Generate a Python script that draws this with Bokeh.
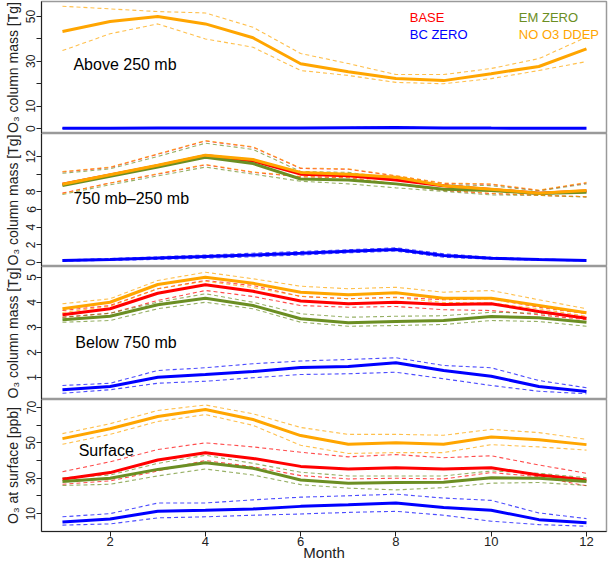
from bokeh.plotting import figure
from bokeh.layouts import column
from bokeh.models import Range1d, FixedTicker, Label
from bokeh.embed import file_html
from bokeh.resources import INLINE

FONT = "Liberation Sans"
RED, BLUE, GREEN, ORANGE = "#FF0000", "#0000FF", "#6B8E23", "#FFA500"

months = [1, 2, 3, 4, 5, 6, 7, 8, 9, 10, 11, 12]
month_ticks = [2, 4, 6, 8, 10, 12]

# ---- Panel 1: Above 250 mb (O3 column mass, Tg)
p1_orange = [43.3, 47.8, 50.0, 46.7, 40.5, 28.9, 25.4, 22.3, 21.4, 24.5, 27.7, 35.6]
p1_orange_hi = [54.6, 53.4, 52.2, 51.6, 45.2, 33.5, 29.0, 24.1, 24.1, 26.8, 31.2, 40.8]
p1_orange_lo = [34.8, 42.3, 46.7, 40.0, 36.3, 25.9, 23.7, 20.6, 20.0, 22.3, 25.9, 29.9]
p1_blue = [0.15, 0.15, 0.2, 0.2, 0.25, 0.3, 0.4, 0.5, 0.3, 0.2, 0.15, 0.15]
p1_blue_hi = [0.2, 0.2, 0.25, 0.25, 0.3, 0.35, 0.5, 0.6, 0.35, 0.25, 0.2, 0.2]
p1_blue_lo = [0.1, 0.1, 0.15, 0.15, 0.2, 0.25, 0.3, 0.4, 0.25, 0.15, 0.1, 0.1]
p1_ticks = [0, 10, 20, 30, 40, 50]
p1_labels = [0, 10, 30, 50]

# ---- Panel 2: 750 mb - 250 mb
p2_orange = [8.85, 9.94, 11.0, 12.15, 11.65, 10.2, 10.0, 9.64, 8.7, 8.3, 7.85, 8.15]
p2_orange_hi = [10.3, 10.8, 12.3, 13.8, 13.1, 10.7, 10.6, 9.83, 9.0, 8.9, 8.2, 9.07]
p2_orange_lo = [7.8, 9.0, 10.05, 11.1, 10.25, 9.75, 9.64, 8.9, 8.2, 7.85, 7.6, 7.45]
p2_red = [8.85, 9.9, 10.95, 12.1, 11.5, 10.0, 9.83, 9.35, 8.7, 8.25, 7.85, 8.1]
p2_red_hi = [10.25, 10.75, 12.25, 13.75, 13.05, 10.65, 10.55, 9.8, 8.95, 8.85, 8.15, 9.0]
p2_red_lo = [7.85, 9.0, 10.0, 11.05, 10.2, 9.7, 9.6, 8.85, 8.15, 7.8, 7.6, 7.45]
p2_green = [8.7, 9.75, 10.8, 11.9, 11.2, 9.45, 9.35, 8.9, 8.3, 8.15, 7.8, 7.95]
p2_green_hi = [10.1, 10.6, 12.0, 13.5, 12.8, 10.3, 10.2, 9.5, 8.8, 8.7, 8.1, 8.9]
p2_green_lo = [7.7, 8.8, 9.8, 10.8, 10.0, 9.2, 8.9, 8.45, 8.05, 7.65, 7.6, 7.4]
p2_blue = [0.23, 0.35, 0.5, 0.68, 0.85, 1.05, 1.28, 1.47, 0.79, 0.49, 0.34, 0.23]
p2_blue_hi = [0.3, 0.45, 0.65, 0.85, 1.05, 1.25, 1.45, 1.66, 1.0, 0.6, 0.4, 0.28]
p2_blue_lo = [0.15, 0.25, 0.35, 0.5, 0.65, 0.85, 1.1, 1.3, 0.6, 0.38, 0.27, 0.18]
p2_ticks = [0, 2, 4, 6, 8, 10, 12]
p2_labels = [0, 2, 4, 6, 8, 12]

# ---- Panel 3: Below 750 mb
p3_orange = [3.75, 4.01, 4.72, 5.01, 4.77, 4.41, 4.31, 4.39, 4.17, 4.17, 3.88, 3.59]
p3_orange_hi = [3.95, 4.15, 4.88, 5.21, 4.95, 4.65, 4.55, 4.61, 4.41, 4.48, 4.11, 3.75]
p3_orange_lo = [3.6, 3.85, 4.55, 4.85, 4.6, 4.25, 4.15, 4.2, 4.0, 3.98, 3.75, 3.45]
p3_red = [3.51, 3.75, 4.37, 4.71, 4.45, 4.06, 3.95, 4.01, 3.92, 3.95, 3.64, 3.37]
p3_red_hi = [3.68, 3.88, 4.55, 4.88, 4.68, 4.24, 4.15, 4.21, 4.11, 4.15, 3.81, 3.55]
p3_red_lo = [3.41, 3.57, 4.08, 4.48, 4.24, 3.88, 3.81, 3.84, 3.71, 3.68, 3.51, 3.31]
p3_green = [3.31, 3.45, 3.91, 4.17, 3.88, 3.35, 3.19, 3.24, 3.28, 3.44, 3.39, 3.21]
p3_green_hi = [3.41, 3.57, 4.01, 4.35, 4.01, 3.55, 3.41, 3.45, 3.47, 3.61, 3.57, 3.39]
p3_green_lo = [3.21, 3.28, 3.75, 4.01, 3.75, 3.21, 3.05, 3.08, 3.12, 3.28, 3.24, 3.05]
p3_blue = [0.51, 0.64, 1.01, 1.12, 1.24, 1.40, 1.44, 1.59, 1.28, 1.05, 0.64, 0.44]
p3_blue_hi = [0.68, 0.77, 1.28, 1.39, 1.55, 1.66, 1.72, 1.79, 1.48, 1.39, 0.88, 0.59]
p3_blue_lo = [0.37, 0.51, 0.77, 0.85, 0.99, 1.12, 1.15, 1.21, 0.95, 0.68, 0.45, 0.35]
p3_ticks = [1, 2, 3, 4, 5]
p3_labels = [1, 2, 3, 4, 5]

# ---- Panel 4: Surface (O3 at surface, ppb)
p4_orange = [52.4, 58.0, 64.9, 68.8, 63.2, 54.1, 49.2, 50.0, 49.2, 53.3, 51.8, 49.0]
p4_orange_hi = [55.2, 60.8, 68.3, 71.4, 66.4, 58.7, 54.8, 54.8, 54.3, 57.6, 55.8, 52.0]
p4_orange_lo = [49.2, 54.8, 62.1, 66.0, 59.9, 48.6, 44.0, 44.5, 44.5, 49.0, 47.7, 45.9]
p4_red = [29.4, 33.2, 40.3, 44.4, 41.2, 36.7, 35.2, 35.9, 35.2, 35.9, 31.8, 29.0]
p4_red_hi = [33.7, 39.3, 46.2, 50.0, 47.7, 44.7, 42.1, 43.4, 41.6, 42.7, 37.5, 32.8]
p4_red_lo = [26.6, 28.5, 34.1, 40.0, 36.5, 31.5, 29.6, 30.0, 29.6, 33.2, 30.9, 25.7]
p4_green = [28.1, 30.0, 35.0, 38.8, 35.6, 29.0, 27.2, 27.6, 27.8, 30.3, 30.0, 28.1]
p4_green_hi = [30.3, 31.8, 38.4, 43.0, 38.4, 33.4, 31.3, 31.3, 31.3, 34.1, 32.8, 30.3]
p4_green_lo = [25.9, 26.6, 31.3, 35.2, 31.8, 26.4, 24.4, 23.4, 24.7, 27.2, 27.6, 25.9]
p4_blue = [5.3, 7.0, 11.3, 11.9, 12.6, 14.1, 15.0, 16.0, 13.5, 11.9, 6.6, 4.8]
p4_blue_hi = [8.2, 10.0, 16.0, 16.0, 17.8, 19.3, 20.1, 21.0, 18.8, 17.5, 10.4, 7.2]
p4_blue_lo = [3.5, 4.2, 7.6, 8.2, 9.1, 9.8, 10.7, 11.3, 9.1, 5.7, 3.8, 2.9]
p4_ticks = [10, 20, 30, 40, 50, 60, 70]
p4_labels = [10, 30, 50, 70]

legend_names = ["BASE", "BC ZERO", "EM ZERO", "NO O3 DDEP"]
panel_names = ["Above 250 mb", "750 mb\u2013250 mb", "Below 750 mb", "Surface"]

FW = 565
LEFT = 41


def make_panel(yr, ticks, labels, ylabel, top=0, xaxis=False, frame_h=133, height=None):
    kw = dict(frame_width=FW, output_backend="svg", toolbar_location=None,
              x_range=Range1d(0.56, 12.42), y_range=Range1d(*yr),
              min_border_left=LEFT, min_border_right=2,
              min_border_top=top, min_border_bottom=0)
    if height is None:
        kw["frame_height"] = frame_h
    else:
        kw["height"] = height
    p = figure(**kw)
    p.grid.visible = False
    p.background_fill_color = "white"
    p.border_fill_color = "white"
    p.outline_line_color = "#9a9a9a"
    p.outline_line_width = 1.5
    ya = p.yaxis[0]
    ya.ticker = FixedTicker(ticks=ticks)
    ya.major_label_overrides = {t: (str(t) if t in labels else "") for t in ticks}
    ya.major_label_orientation = "vertical"
    ya.minor_tick_line_color = None
    ya.major_tick_out = 5
    ya.major_tick_in = 0
    ya.major_label_standoff = 1
    ya.axis_label = ylabel
    ya.axis_label_standoff = 3
    ya.axis_label_text_font = FONT
    ya.axis_label_text_font_style = "normal"
    ya.axis_label_text_font_size = "14px"
    ya.major_label_text_font = FONT
    ya.major_label_text_font_size = "12px"
    ya.axis_line_color = "#222222"
    ya.major_tick_line_color = "#222222"
    ya.major_label_text_color = "#222222"
    ya.axis_label_text_color = "#222222"
    if xaxis:
        xa = p.xaxis[0]
        xa.ticker = FixedTicker(ticks=month_ticks)
        xa.minor_tick_line_color = None
        xa.major_tick_out = 5
        xa.major_tick_in = 0
        xa.major_label_standoff = 0
        xa.major_label_text_font = FONT
        xa.major_label_text_font_size = "13px"
        xa.axis_label = "Month"
        xa.axis_label_standoff = -5
        xa.axis_label_text_font = FONT
        xa.axis_label_text_font_style = "normal"
        xa.axis_label_text_font_size = "15px"
        xa.axis_line_color = "#222222"
        xa.major_tick_line_color = "#222222"
        xa.major_label_text_color = "#222222"
        xa.axis_label_text_color = "#222222"
    else:
        p.xaxis.visible = False
    return p


def draw(p, lo, mid, hi, color):
    p.line(months, lo, line_color=color, line_width=1.1, line_dash="4 3", line_alpha=0.7)
    p.line(months, hi, line_color=color, line_width=1.1, line_dash="4 3", line_alpha=0.7)


def main(p, mid, color):
    p.line(months, mid, line_color=color, line_width=3)


def panel_label(p, x, y, text):
    p.add_layout(Label(x=x, y=y, text=text, text_font=FONT, text_font_size="16px",
                       text_baseline="middle", text_align="left", text_color="black"))


# Panel 1
f1 = make_panel((-2.2, 56.7), p1_ticks, p1_labels, "O\u2083 column mass [Tg]", top=1, frame_h=132)
draw(f1, p1_blue_lo, p1_blue, p1_blue_hi, BLUE)
draw(f1, p1_orange_lo, p1_orange, p1_orange_hi, ORANGE)
main(f1, p1_blue, BLUE)
main(f1, p1_orange, ORANGE)
panel_label(f1, 1.23, 28.6, panel_names[0])
for name, col, lx, ly in [(legend_names[0], RED, 8.29, 49.4), (legend_names[1], BLUE, 8.29, 42.1),
                          (legend_names[2], GREEN, 10.58, 49.4), (legend_names[3], ORANGE, 10.58, 42.1)]:
    f1.add_layout(Label(x=lx, y=ly, text=name, text_font=FONT, text_font_size="13px",
                        text_baseline="middle", text_align="left", text_color=col))

# Panel 2
f2 = make_panel((-0.45, 14.6), p2_ticks, p2_labels, "O\u2083 column mass [Tg]")
draw(f2, p2_red_lo, p2_red, p2_red_hi, RED)
draw(f2, p2_blue_lo, p2_blue, p2_blue_hi, BLUE)
draw(f2, p2_green_lo, p2_green, p2_green_hi, GREEN)
draw(f2, p2_orange_lo, p2_orange, p2_orange_hi, ORANGE)
main(f2, p2_red, RED)
main(f2, p2_blue, BLUE)
main(f2, p2_green, GREEN)
main(f2, p2_orange, ORANGE)
panel_label(f2, 1.23, 7.3, panel_names[1])

# Panel 3
f3 = make_panel((0.12, 5.44), p3_ticks, p3_labels, "O\u2083 column mass [Tg]")
draw(f3, p3_red_lo, p3_red, p3_red_hi, RED)
draw(f3, p3_blue_lo, p3_blue, p3_blue_hi, BLUE)
draw(f3, p3_green_lo, p3_green, p3_green_hi, GREEN)
draw(f3, p3_orange_lo, p3_orange, p3_orange_hi, ORANGE)
main(f3, p3_red, RED)
main(f3, p3_blue, BLUE)
main(f3, p3_green, GREEN)
main(f3, p3_orange, ORANGE)
panel_label(f3, 1.27, 2.4, panel_names[2])

# Panel 4
f4 = make_panel((-0.1, 74.5), p4_ticks, p4_labels, "O\u2083 at surface [ppb]", xaxis=True, height=164)
draw(f4, p4_red_lo, p4_red, p4_red_hi, RED)
draw(f4, p4_blue_lo, p4_blue, p4_blue_hi, BLUE)
draw(f4, p4_green_lo, p4_green, p4_green_hi, GREEN)
draw(f4, p4_orange_lo, p4_orange, p4_orange_hi, ORANGE)
main(f4, p4_red, RED)
main(f4, p4_blue, BLUE)
main(f4, p4_green, GREEN)
main(f4, p4_orange, ORANGE)
panel_label(f4, 1.34, 45.9, panel_names[3])

layout = column(f1, f2, f3, f4, spacing=0)
open("out.html", "w").write(file_html(layout, INLINE))
